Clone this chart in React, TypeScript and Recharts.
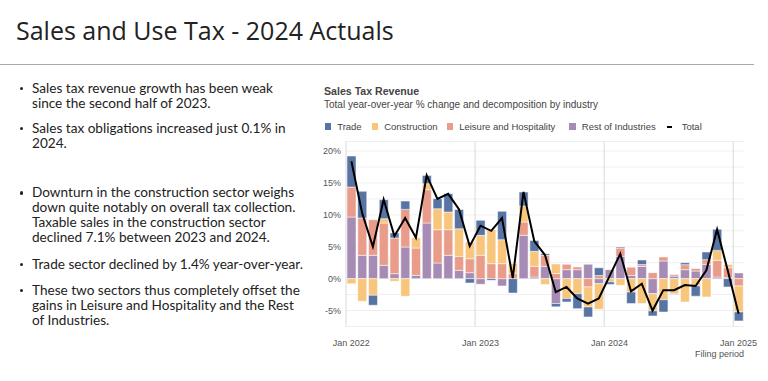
import {
  Bar,
  CartesianGrid,
  ComposedChart,
  Legend,
  Line,
  ReferenceLine,
  XAxis,
  YAxis,
} from "recharts";

const MONTH_NAMES = ["Jan", "Feb", "Mar", "Apr", "May", "Jun", "Jul", "Aug", "Sep", "Oct", "Nov", "Dec"];
const YEARS = [2022, 2023, 2024, 2025];
const months = YEARS.flatMap((y) => MONTH_NAMES.map((m) => `${m} ${y}`)).slice(0, 37);
const yearTicks = ["Jan 2022", "Jan 2023", "Jan 2024", "Jan 2025"];
const yTicks = [-7.5, -5, -2.5, 0, 2.5, 5, 7.5, 10, 12.5, 15, 17.5, 20];

// % contribution to year-over-year change, Jan 2022 .. Jan 2025
const rest = [
  9.66, 3.66, 3.66, 2.09, 0.78, 4.96, 0.52, 8.72, 2.45, 3.66, 1.3, 0.94,
  -0.89, 0, -1.15, 0, 6.79, 0.26, 1.93, -3.9, 1.41, 1.41, 2.25, -0.8,
  1.41, 3.5, 0.5, 1.9, -2.35, 2.77, 0.4, 1.41, 1.2, 2.25, 0.26, 0.15, 0.9,
];
const leisure = [
  4.7, 5.85, 5.59, 6.63, 5.59, 5.9, 4.28, 5.22, 5.22, 4.02, 2.19, 2.19,
  3.66, 2.35, 2.35, 0.85, 2.09, 1.67, 1.72, 0.8, 0.84, 0.42, -1.3, 0.5,
  0, 1.3, 1.3, 0.3, 0.94, 0.63, 0.25, 0.78, 0.4, 0.73, 2.6, 1.57, -1.15,
];
const construction = [
  -0.8, -3.55, -2.6, 0.68, -0.42, -2.77, 1.62, 0.94, 3.29, 2.77, 4.33, 2.61,
  3.13, 5.33, 3.76, 1.5, 2.5, 2.35, -0.9, 1.5, -3.13, -2.35, -3.13, -4.0,
  -0.5, -1.04, -2.1, -3.9, -2.7, -3.3, -2.35, -3.65, -1.15, -2.87, 1.57, 0.5, -4.07,
];
const trade = [
  4.86, 4.18, -1.57, 2.98, 0.78, 1.3, 0, 1.3, 1.57, 2.87, 3.03, -0.68,
  2.35, -0.26, 4.44, -2.25, 2.19, 1.72, 0.26, -0.52, -0.52, -2.35, -1.57, 1.2,
  -0.4, 0.15, -1.8, 0.73, -0.8, -1.93, -0.1, 0.31, -1.6, 1.2, 3.3, -1.3, -1.4,
];
const total = [
  18.4, 10.3, 5.0, 12.4, 6.7, 9.5, 6.4, 16.2, 12.5, 13.3, 10.9, 5.1,
  8.3, 7.5, 9.5, 0.1, 13.6, 5.9, 3.7, -2.1, -1.3, -3.1, -3.9, -3.1,
  0.4, 3.9, -2.0, -0.8, -5.0, -1.8, -1.8, -1.0, -1.15, 1.3, 7.7, 1.2, -5.5,
];

const COLORS = {
  trade: "#5874a3",
  construction: "#f7c67c",
  leisure: "#ea9c8b",
  rest: "#a68bb4",
};

// left edge of each legend marker, relative to the chart box
const LEGEND_ITEMS = [
  { label: "Trade", color: COLORS.trade, left: 24.7 },
  { label: "Construction", color: COLORS.construction, left: 71.7 },
  { label: "Leisure and Hospitality", color: COLORS.leisure, left: 146.7 },
  { label: "Rest of Industries", color: COLORS.rest, left: 269.3 },
];

const bullets = [
  { top: 80.8, lines: ["Sales tax revenue growth has been weak", "since the second half of 2023."] },
  { top: 120.8, lines: ["Sales tax obligations increased just 0.1% in", "2024."] },
  {
    top: 185.2,
    lines: [
      "Downturn in the construction sector weighs",
      "down quite notably on overall tax collection.",
      "Taxable sales in the construction sector",
      "declined 7.1% between 2023 and 2024.",
    ],
  },
  { top: 256.5, lines: ["Trade sector declined by 1.4% year-over-year."] },
  {
    top: 282.5,
    lines: [
      "These two sectors thus completely offset the",
      "gains in Leisure and Hospitality and the Rest",
      "of Industries.",
    ],
  },
];

const data = months.map((month, i) => ({
  month,
  rest: rest[i],
  leisure: leisure[i],
  construction: construction[i],
  trade: trade[i],
  total: total[i],
}));

const CHART_FONT = "'Liberation Sans', Arial, sans-serif";

function ChartLegend() {
  const text = { position: "absolute" as const, top: 0, lineHeight: "12px", whiteSpace: "nowrap" as const };
  return (
    <div style={{ position: "relative", height: 12, fontSize: 9.5, color: "#444", fontFamily: CHART_FONT }}>
      {LEGEND_ITEMS.map((item) => (
        <div key={item.label}>
          <span style={{ position: "absolute", left: item.left - 24, top: 2.5, width: 6.5, height: 6.5, background: item.color }} />
          <span style={{ ...text, left: item.left - 24 + 12.5 }}>{item.label}</span>
        </div>
      ))}
      <span style={{ position: "absolute", left: 367.3 - 24, top: 5, width: 5, height: 2.2, background: "#000" }} />
      <span style={{ ...text, left: 367.3 - 24 + 14.4 }}>Total</span>
    </div>
  );
}

export default function App() {
  return (
    <div
      style={{
        position: "absolute",
        left: 0,
        top: 0,
        width: 768,
        height: 381,
        background: "#fff",
        overflow: "hidden",
        color: "#222",
      }}
    >
      <div
        style={{
          position: "absolute",
          left: 16,
          top: 15,
          fontFamily: "'Open Sans', sans-serif",
          fontSize: 25,
          lineHeight: "30px",
          whiteSpace: "nowrap",
        }}
      >
        Sales and Use Tax - 2024 Actuals
      </div>
      <div style={{ position: "absolute", left: 0, top: 64, width: 754, height: 1, background: "#a9a9a9" }} />

      {bullets.map((b) => (
        <div
          key={b.top}
          style={{
            position: "absolute",
            left: 32,
            top: b.top,
            fontFamily: "Lato, sans-serif",
            fontSize: 13.6,
            lineHeight: "15px",
            whiteSpace: "nowrap",
          }}
        >
          <span
            style={{
              position: "absolute",
              left: -12.5,
              top: 6,
              width: 3.5,
              height: 3.5,
              borderRadius: "50%",
              background: "#222",
            }}
          />
          {b.lines.map((line) => (
            <div key={line}>{line}</div>
          ))}
        </div>
      ))}

      <div style={{ position: "absolute", left: 300, top: 80, width: 460, height: 290 }}>
        <div
          style={{
            position: "absolute",
            left: 24,
            top: 5,
            fontFamily: CHART_FONT,
            fontSize: 10.6,
            fontWeight: "bold",
            color: "#444",
            whiteSpace: "nowrap",
          }}
        >
          Sales Tax Revenue
        </div>
        <div
          style={{
            position: "absolute",
            left: 24,
            top: 19,
            fontFamily: CHART_FONT,
            fontSize: 10,
            color: "#444",
            whiteSpace: "nowrap",
          }}
        >
          Total year-over-year % change and decomposition by industry
        </div>
        <ComposedChart
          width={460}
          height={290}
          data={data}
          stackOffset="sign"
          barCategoryGap={1}
          margin={{ top: 61.5, right: 16, bottom: 13.5, left: 0 }}
          style={{ fontFamily: CHART_FONT }}
        >
          <CartesianGrid vertical={false} stroke="#efefef" />
          <XAxis
            dataKey="month"
            interval={0}
            height={30}
            axisLine={false}
            tickLine={false}
            tickSize={0}
            tickMargin={13}
            tickFormatter={(v: string) => (yearTicks.includes(v) ? v : "")}
            tick={{ fontSize: 9, fill: "#555" }}
            label={{
              value: "Filing period",
              position: "insideBottomRight",
              offset: 0,
              fontSize: 9,
              fill: "#555",
            }}
          />
          <YAxis
            width={46}
            domain={[-7.5, 21.5]}
            ticks={yTicks}
            allowDataOverflow
            axisLine={false}
            tickLine={false}
            tickSize={0}
            tickMargin={5}
            tickFormatter={(v: number) => (v % 5 === 0 ? `${v}%` : "")}
            tick={{ fontSize: 9, fill: "#555" }}
          />
          {yearTicks.map((m) => (
            <ReferenceLine key={m} x={m} position="start" stroke="#d9d9d9" />
          ))}
          <Legend
            verticalAlign="middle"
            align="center"
            layout="horizontal"
            wrapperStyle={{ left: 24, top: 40.5, width: 440 }}
            content={() => <ChartLegend />}
          />
          <Bar dataKey="rest" name="Rest of Industries" stackId="a" fill={COLORS.rest} stroke="#fff" strokeWidth={0.5} isAnimationActive={false} />
          <Bar dataKey="leisure" name="Leisure and Hospitality" stackId="a" fill={COLORS.leisure} stroke="#fff" strokeWidth={0.5} isAnimationActive={false} />
          <Bar dataKey="construction" name="Construction" stackId="a" fill={COLORS.construction} stroke="#fff" strokeWidth={0.5} isAnimationActive={false} />
          <Bar dataKey="trade" name="Trade" stackId="a" fill={COLORS.trade} stroke="#fff" strokeWidth={0.5} isAnimationActive={false} />
          <Line
            dataKey="total"
            name="Total"
            type="linear"
            stroke="#000"
            strokeWidth={2}
            dot={false}
            isAnimationActive={false}
          />
        </ComposedChart>
      </div>
    </div>
  );
}
